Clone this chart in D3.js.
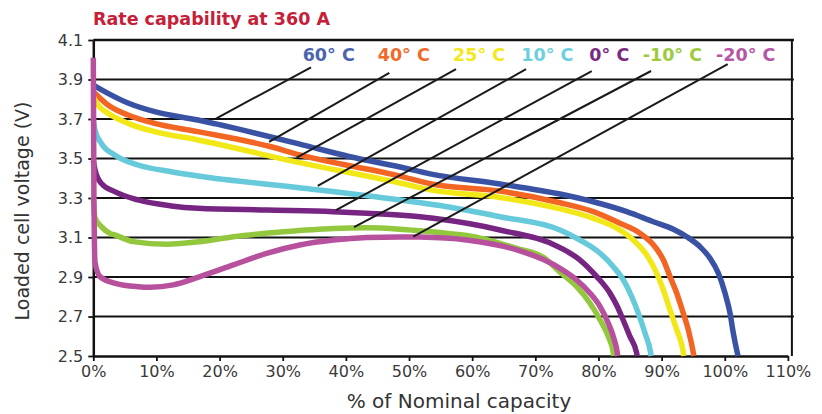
<!DOCTYPE html>
<html><head><meta charset="utf-8">
<script src="https://cdn.jsdelivr.net/npm/d3@7"></script>
<style>body{margin:0;background:#fff}svg{display:block}</style>
</head><body>
<svg id="c" width="822" height="414"></svg>
<script>
// ---- data ----
const categories = ["60° C","40° C","25° C","10° C","0° C","-10° C","-20° C"];
const xTicks = [0,10,20,30,40,50,60,70,80,90,100,110];
const yTicks = [2.5,2.7,2.9,3.1,3.3,3.5,3.7,3.9,4.1];

const s60 = [[0,3.872],[2.33,3.830],[5.5,3.781],[9.72,3.737],[16.58,3.695],[19.43,3.675],[32.7,3.573],[40.66,3.509],[48.58,3.457],[53.33,3.422],[64.4,3.371],[73.91,3.320],[79.19,3.281],[84.48,3.231],[88.69,3.180],[91.86,3.142],[93.98,3.104],[96.09,3.053],[97.67,2.995],[98.99,2.919],[100.05,2.818],[100.84,2.716],[101.36,2.615],[102.0,2.514],[102.1,2.5]];
const s40 = [[0,3.838],[2.33,3.771],[5.5,3.720],[9.72,3.678],[16.58,3.636],[27.83,3.562],[32.7,3.518],[48.58,3.411],[53.33,3.372],[64.4,3.335],[73.91,3.276],[79.19,3.231],[83.41,3.172],[86.59,3.121],[88.96,3.053],[90.28,2.986],[91.33,2.902],[92.40,2.818],[93.44,2.716],[94.23,2.632],[95.03,2.514],[95.1,2.5]];
const s25 = [[0,3.813],[0.74,3.771],[2.33,3.729],[5.5,3.678],[9.72,3.636],[16.58,3.594],[32.7,3.479],[48.58,3.376],[53.33,3.341],[64.4,3.303],[73.91,3.245],[79.19,3.197],[82.89,3.147],[85.52,3.087],[87.65,3.011],[89.23,2.919],[90.28,2.834],[91.33,2.733],[92.40,2.632],[93.44,2.514],[93.5,2.5]];
const s10 = [[0,3.70],[0.27,3.644],[1.27,3.577],[3.39,3.518],[7.08,3.467],[12.35,3.433],[16.58,3.411],[32.7,3.352],[48.58,3.290],[54.91,3.262],[64.4,3.205],[73.91,3.138],[77.08,3.087],[80.26,3.020],[82.36,2.952],[83.94,2.885],[85.27,2.800],[86.32,2.716],[87.38,2.615],[88.28,2.514],[88.35,2.5]];
const s0 = [[0,3.49],[0.27,3.442],[1.27,3.374],[3.39,3.332],[7.08,3.290],[12.35,3.260],[16.58,3.248],[27.46,3.239],[38.01,3.231],[43.3,3.223],[51.74,3.205],[53.85,3.197],[64.4,3.138],[73.91,3.049],[77.08,2.986],[79.73,2.902],[81.83,2.818],[82.89,2.757],[83.94,2.680],[85.0,2.598],[86.06,2.514],[86.1,2.5]];
const sM10 = [[0,3.30],[0.27,3.20],[1.27,3.155],[2.64,3.121],[3.39,3.113],[6.34,3.079],[11.62,3.066],[16.89,3.079],[22.17,3.104],[30.09,3.129],[38.01,3.146],[43.3,3.149],[48.58,3.142],[51.74,3.134],[54.91,3.125],[59.14,3.110],[67.06,3.045],[71.27,3.000],[73.91,2.925],[76.56,2.851],[78.67,2.767],[80.26,2.682],[81.56,2.598],[82.36,2.514],[82.4,2.5]];
const sM20 = [[0,4.01],[0.1,3.30],[0.27,2.975],[1.06,2.902],[3.5,2.868],[7.08,2.851],[8.98,2.848],[12.67,2.860],[16.89,2.902],[22.17,2.961],[27.46,3.020],[32.7,3.062],[38.01,3.087],[43.3,3.100],[48.58,3.103],[51.74,3.102],[59.14,3.087],[67.06,3.037],[71.27,2.988],[73.91,2.944],[76.56,2.885],[78.67,2.818],[80.26,2.750],[81.56,2.666],[82.36,2.598],[82.99,2.514],[83.05,2.5]];
const seriesValues = [s60,s40,s25,s10,s0,sM10,sM20];

// label anchors (x in %, y in V) and leader lines (from label to curve)
const labelX = [33.16,45.04,56.97,67.79,78.56,87.01,98.62];
const labelV = 3.994;
const leaderFrom = [[34.48,3.962],[46.88,3.934],[57.44,3.952],[68.53,3.952],[78.94,3.943],[88.33,3.943],[100.47,3.978]];
const leaderTo = [[19.43,3.702],[27.83,3.584],[32.21,3.504],[35.54,3.361],[38.44,3.239],[41.29,3.152],[50.68,3.104]];

// ---- styles ----
const lineColors = ["#3a52a3","#f26522","#f2e818","#66cadb","#772582","#93c83e","#b7519d"];
const labelColors = ["#4a64ae","#f26a2a","#f2e81a","#6ccfe0","#7a2a80","#9acb3b","#b456a4"];

const svg = d3.select("#c");
const x = d3.scaleLinear().domain([0,110]).range([93.3,787.9]);
const y = d3.scaleLinear().domain([2.5,4.1]).range([356,40]);
const rightEdge = x(110) + 4;

// title
svg.append("text").attr("x",93).attr("y",25)
  .attr("font-family","DejaVu Sans").attr("font-weight","bold").attr("font-size",17.5)
  .attr("fill","#c62039").text("Rate capability at 360 A");

// gridlines
svg.append("g").selectAll("line").data(yTicks.slice(1)).join("line")
  .attr("x1",x(0)).attr("x2",rightEdge+2)
  .attr("y1",d=>y(d)).attr("y2",d=>y(d))
  .attr("stroke","#111").attr("stroke-width",d=>d===4.1?2.5:2);
// right border
svg.append("line").attr("x1",rightEdge).attr("x2",rightEdge)
  .attr("y1",y(4.1)-1).attr("y2",y(2.5)).attr("stroke","#111").attr("stroke-width",2);

// axes
const gy = svg.append("g").attr("transform",`translate(${x(0)},0)`)
  .call(d3.axisLeft(y).tickValues(yTicks).tickFormat(d3.format(".1f")).tickSize(5).tickSizeOuter(0).tickPadding(5));
const gx = svg.append("g").attr("transform",`translate(0,${y(2.5)})`)
  .call(d3.axisBottom(x).tickValues(xTicks).tickFormat(d=>d+"%").tickSize(5).tickSizeOuter(0).tickPadding(5));
[gy,gx].forEach(g=>{
  g.select(".domain").attr("stroke","#111").attr("stroke-width",2.5);
  g.selectAll(".tick line").attr("stroke","#111").attr("stroke-width",1.8);
  g.selectAll(".tick text").attr("font-family","DejaVu Sans").attr("font-size",16).attr("fill","#3a3a3a");
});

// curves
const line = d3.line().x(d=>x(d[0])).y(d=>y(d[1])).curve(d3.curveMonotoneX);
svg.append("g").selectAll("path").data(seriesValues).join("path")
  .attr("d",line).attr("fill","none")
  .attr("stroke",(d,i)=>lineColors[i]).attr("stroke-width",5.5)
  .attr("stroke-linejoin","round");

// leader lines
svg.append("g").selectAll("line").data(categories).join("line")
  .attr("x1",(d,i)=>x(leaderFrom[i][0])).attr("y1",(d,i)=>y(leaderFrom[i][1]))
  .attr("x2",(d,i)=>x(leaderTo[i][0])).attr("y2",(d,i)=>y(leaderTo[i][1]))
  .attr("stroke","#1a1a1a").attr("stroke-width",2);

// series labels
svg.append("g").selectAll("text").data(categories).join("text")
  .attr("x",(d,i)=>x(labelX[i])).attr("y",y(labelV))
  .attr("font-family","DejaVu Sans").attr("font-weight","bold").attr("font-size",17.5)
  .attr("fill",(d,i)=>labelColors[i]).text(d=>d);

// axis titles
svg.append("text").attr("transform","translate(29,211) rotate(-90)")
  .attr("text-anchor","middle").attr("font-family","DejaVu Sans").attr("font-size",19)
  .attr("fill","#333").text("Loaded cell voltage (V)");
svg.append("text").attr("x",459).attr("y",408).attr("text-anchor","middle")
  .attr("font-family","DejaVu Sans").attr("font-size",20)
  .attr("fill","#333").text("% of Nominal capacity");
</script>
</body></html>
